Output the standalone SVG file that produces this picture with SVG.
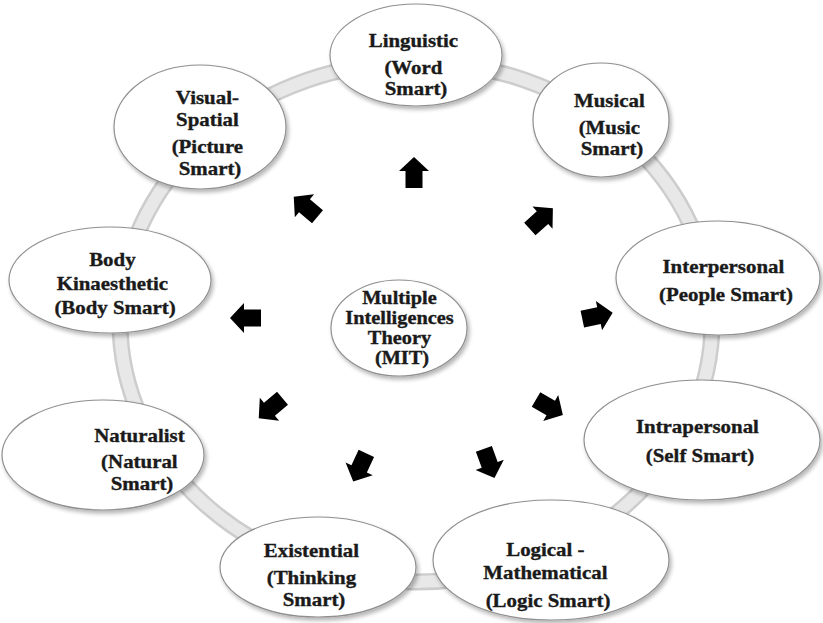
<svg xmlns="http://www.w3.org/2000/svg" width="823" height="623" viewBox="0 0 823 623">
  <defs>
    <filter id="shadow" x="-10%" y="-10%" width="125%" height="130%">
      <feGaussianBlur in="SourceAlpha" stdDeviation="2.2"/>
      <feOffset dx="2" dy="3" result="b"/>
      <feComponentTransfer><feFuncA type="linear" slope="0.3"/></feComponentTransfer>
      <feMerge><feMergeNode/><feMergeNode in="SourceGraphic"/></feMerge>
    </filter>
    <!-- block arrow pointing up, centred on the origin -->
    <polygon id="arrow" points="0,-16 15,-2 8.5,-2 8.5,15 -8.5,15 -8.5,-2 -15,-2"/>
  </defs>
  <style>
    .ring-edge { fill: none; stroke: #cdcdcd; stroke-width: 17; }
    .ring-core { fill: none; stroke: #e8e8e8; stroke-width: 12; }
    .node { fill: #ffffff; stroke: #8f8f8f; stroke-width: 1.2; filter: url(#shadow); }
    .label { font-family: "Liberation Serif", "Times New Roman", serif; font-weight: bold; font-size: 18.5px; fill: #1a1a1a; stroke: #1a1a1a; stroke-width: 0.35; text-anchor: middle; }
    .arrow { fill: #000000; }
  </style>

  <rect width="823" height="623" fill="#ffffff"/>

  <!-- background ring joining the outer nodes -->
  <g id="ring">
    <ellipse class="ring-edge" cx="416" cy="322" rx="296" ry="260"/>
    <ellipse class="ring-core" cx="416" cy="322" rx="296" ry="260"/>
  </g>

  <!-- arrows radiating from the centre -->
  <g id="connectors">
    <use href="#arrow" class="arrow" transform="translate(414,173) rotate(0)"/>
    <use href="#arrow" class="arrow" transform="translate(306,207) rotate(-50)"/>
    <use href="#arrow" class="arrow" transform="translate(541,219) rotate(48)"/>
    <use href="#arrow" class="arrow" transform="translate(246,318) rotate(-90)"/>
    <use href="#arrow" class="arrow" transform="translate(597,316) rotate(78)"/>
    <use href="#arrow" class="arrow" transform="translate(271,408) rotate(-130)"/>
    <use href="#arrow" class="arrow" transform="translate(549,407) rotate(120)"/>
    <use href="#arrow" class="arrow" transform="translate(360,467) rotate(-155)"/>
    <use href="#arrow" class="arrow" transform="translate(489,463) rotate(160)"/>
  </g>

  <g id="linguistic">
    <ellipse class="node" cx="416" cy="55" rx="86" ry="51"/>
    <text class="label" transform="translate(416,0) scale(1.13,1)">
      <tspan x="0" y="47">Linguistic</tspan>
      <tspan x="0" y="74">(Word</tspan>
      <tspan x="0" y="95">Smart)</tspan>
    </text>
  </g>

  <g id="musical">
    <ellipse class="node" cx="601" cy="120" rx="68" ry="57"/>
    <text class="label" transform="translate(612,0) scale(1.13,1)">
      <tspan x="0" y="107">Musical</tspan>
      <tspan x="0" y="134">(Music</tspan>
      <tspan x="0" y="155">Smart)</tspan>
    </text>
  </g>

  <g id="visual-spatial">
    <ellipse class="node" cx="200" cy="127" rx="86" ry="62"/>
    <text class="label" transform="translate(210,0) scale(1.13,1)">
      <tspan x="0" y="104">Visual-</tspan>
      <tspan x="0" y="126">Spatial</tspan>
      <tspan x="0" y="153">(Picture</tspan>
      <tspan x="0" y="175">Smart)</tspan>
    </text>
  </g>

  <g id="body-kinaesthetic">
    <ellipse class="node" cx="110" cy="280" rx="101" ry="53"/>
    <text class="label" transform="translate(115,0) scale(1.13,1)">
      <tspan x="0" y="266">Body</tspan>
      <tspan x="0" y="290">Kinaesthetic</tspan>
      <tspan x="0" y="314">(Body Smart)</tspan>
    </text>
  </g>

  <g id="mit">
    <ellipse class="node" cx="399" cy="328" rx="68" ry="48"/>
    <text class="label" transform="translate(402,0) scale(1.1,1)">
      <tspan x="0" y="304">Multiple</tspan>
      <tspan x="0" y="324">Intelligences</tspan>
      <tspan x="0" y="344">Theory</tspan>
      <tspan x="0" y="364">(MIT)</tspan>
    </text>
  </g>

  <g id="interpersonal">
    <ellipse class="node" cx="718" cy="278" rx="102" ry="57"/>
    <text class="label" transform="translate(726,0) scale(1.13,1)">
      <tspan x="0" y="273">Interpersonal</tspan>
      <tspan x="0" y="301">(People Smart)</tspan>
    </text>
  </g>

  <g id="intrapersonal">
    <ellipse class="node" cx="702" cy="440" rx="118" ry="60"/>
    <text class="label" transform="translate(700,0) scale(1.13,1)">
      <tspan x="0" y="433">Intrapersonal</tspan>
      <tspan x="0" y="462">(Self Smart)</tspan>
    </text>
  </g>

  <g id="logical-mathematical">
    <ellipse class="node" cx="551" cy="560" rx="118" ry="60"/>
    <text class="label" transform="translate(548,0) scale(1.13,1)">
      <tspan x="0" y="556">Logical -</tspan>
      <tspan x="0" y="579">Mathematical</tspan>
      <tspan x="0" y="607">(Logic Smart)</tspan>
    </text>
  </g>

  <g id="existential">
    <ellipse class="node" cx="318" cy="567" rx="98" ry="50"/>
    <text class="label" transform="translate(314,0) scale(1.13,1)">
      <tspan x="0" y="557">Existential</tspan>
      <tspan x="0" y="584">(Thinking</tspan>
      <tspan x="0" y="606">Smart)</tspan>
    </text>
  </g>

  <g id="naturalist">
    <ellipse class="node" cx="103" cy="455" rx="101" ry="55"/>
    <text class="label" transform="translate(142,0) scale(1.13,1)">
      <tspan x="0" y="442">Naturalist</tspan>
      <tspan x="0" y="468">(Natural</tspan>
      <tspan x="0" y="490">Smart)</tspan>
    </text>
  </g>
</svg>
